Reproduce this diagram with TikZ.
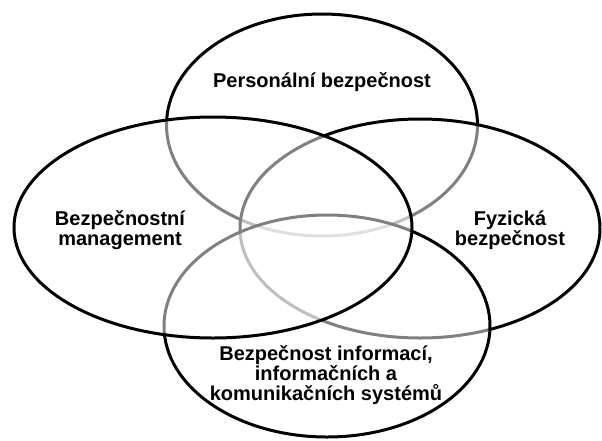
\documentclass[tikz,border=0pt]{standalone}
\usepackage{fontspec}
\setmainfont{Liberation Sans}
\usetikzlibrary{shapes.geometric}

\begin{document}
\begin{tikzpicture}[
x=1pt, y=-1pt,
ring/.style={draw, ellipse, line width=3pt, fill=white, fill opacity=0.5, draw opacity=1, inner sep=0pt},
txt/.style={align=center, font=\fontsize{20}{20}\selectfont\bfseries, anchor=base}
]
\useasboundingbox (0,0) rectangle (602,440);
% the four overlapping areas, drawn in this order for the grey overlaps
\node[ring, minimum width=311pt, minimum height=222pt] (per) at (322,125) {};
\node[ring, minimum width=360pt, minimum height=219pt] (fyz) at (420,228.5) {};
\node[ring, minimum width=326pt, minimum height=222pt] (inf) at (327,326) {};
\node[ring, minimum width=398pt, minimum height=221pt] (man) at (213,227.5) {};

% texts, anchored at the baseline of their last line
\node[txt] (perT) at (322,87) {Personální bezpečnost};
\node[txt] (manT) at (120,245) {Bezpečnostní\\management};
\node[txt] (fyzT) at (510,245) {Fyzická\\bezpečnost};
\node[txt] (infT) at (326,400) {Bezpečnost informací,\\informačních a\\komunikačních systémů};
\end{tikzpicture}
\end{document}
